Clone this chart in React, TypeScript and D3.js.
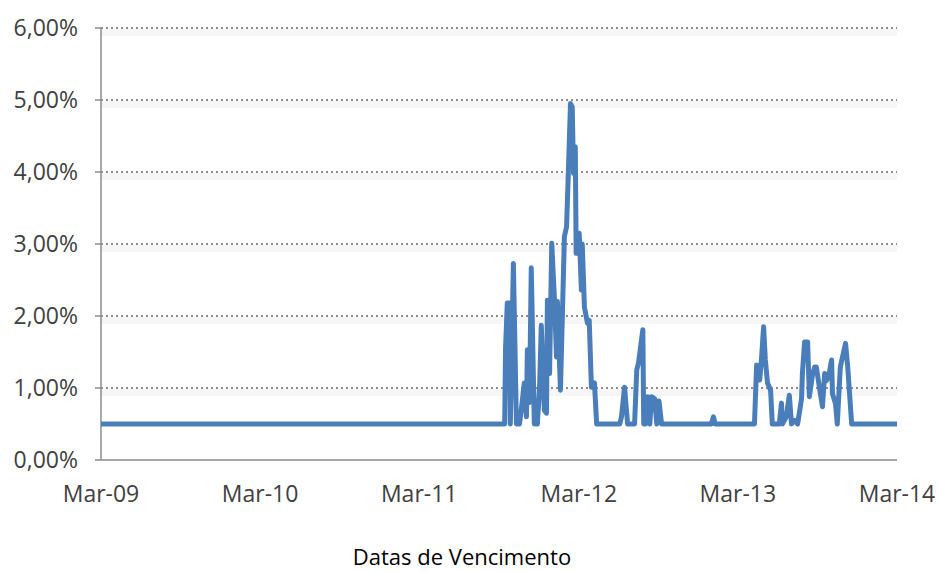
import React from 'react';
import * as d3 from 'd3';

// spread values (%) by maturity date
const dates = [
  '2009-03-01', '2011-09-13', '2011-09-15', '2011-09-19', '2011-09-24', '2011-09-26',
  '2011-10-03', '2011-10-10', '2011-10-17', '2011-10-21', '2011-10-28', '2011-11-02',
  '2011-11-04', '2011-11-09', '2011-11-13', '2011-11-20', '2011-11-27', '2011-12-02',
  '2011-12-06', '2011-12-13', '2011-12-18', '2011-12-20', '2011-12-25', '2011-12-30',
  '2012-01-05', '2012-01-10', '2012-01-12', '2012-01-19', '2012-01-28', '2012-02-02',
  '2012-02-06', '2012-02-11', '2012-02-15', '2012-02-18', '2012-02-22', '2012-02-24',
  '2012-03-02', '2012-03-07', '2012-03-09', '2012-03-14', '2012-03-21', '2012-03-25',
  '2012-03-30', '2012-04-06', '2012-04-11', '2012-06-03', '2012-06-07', '2012-06-14',
  '2012-06-21', '2012-07-07', '2012-07-12', '2012-07-16', '2012-07-26', '2012-07-28',
  '2012-08-01', '2012-08-06', '2012-08-11', '2012-08-15', '2012-08-22', '2012-08-27',
  '2012-09-01', '2012-09-07', '2012-12-30', '2013-01-04', '2013-01-08', '2013-04-08',
  '2013-04-13', '2013-04-20', '2013-04-24', '2013-04-29', '2013-05-03', '2013-05-08',
  '2013-05-15', '2013-05-19', '2013-06-04', '2013-06-09', '2013-06-11', '2013-06-20',
  '2013-06-27', '2013-07-02', '2013-07-09', '2013-07-16', '2013-07-25', '2013-07-27',
  '2013-08-01', '2013-08-08', '2013-08-12', '2013-08-19', '2013-08-24', '2013-08-28',
  '2013-09-04', '2013-09-11', '2013-09-16', '2013-09-20', '2013-09-25', '2013-10-02',
  '2013-10-04', '2013-10-11', '2013-10-15', '2013-10-22', '2013-10-27', '2013-11-03',
  '2013-11-08', '2013-11-17', '2014-03-01',
];

const values = [
  0.5, 0.5, 1.55, 2.18, 2.18, 0.5,
  2.73, 0.5, 0.5, 0.69, 1.07, 0.6,
  1.53, 0.8, 2.67, 0.5, 0.5, 1.0,
  1.87, 0.69, 0.65, 2.22, 1.2, 3.01,
  2.26, 1.43, 2.2, 0.97, 3.1, 3.24,
  3.98, 4.95, 4.9, 3.98, 4.35, 2.87,
  3.15, 2.36, 3.0, 2.12, 1.9, 1.94,
  1.01, 1.07, 0.5, 0.5, 0.6, 1.01,
  0.5, 0.5, 1.25, 1.35, 1.81, 0.5,
  0.5, 0.88, 0.5, 0.88, 0.85, 0.5,
  0.82, 0.5, 0.5, 0.6, 0.5, 0.5,
  1.32, 1.11, 1.39, 1.85, 1.39, 1.07,
  0.97, 0.5, 0.5, 0.79, 0.5, 0.6,
  0.9, 0.5, 0.55, 0.5, 0.85, 1.2,
  1.64, 1.64, 0.88, 1.18, 1.29, 1.29,
  1.01, 0.74, 1.2, 1.1, 1.15, 1.39,
  0.92, 0.78, 0.5, 1.29, 1.43, 1.62,
  1.29, 0.5, 0.5,
];

const xTicks = ['2009-03-01', '2010-03-01', '2011-03-01', '2012-03-01', '2013-03-01', '2014-03-01'];
const xTickLabels = ['Mar-09', 'Mar-10', 'Mar-11', 'Mar-12', 'Mar-13', 'Mar-14'];
const yTicks = [0, 1, 2, 3, 4, 5, 6];
const xTitle = 'Datas de Vencimento';

const W = 938;
const H = 572;
const margin = { top: 28, right: 41, bottom: 112, left: 101 };
const font = '"Open Sans", sans-serif';

export default function App() {
  const parse = d3.timeParse('%Y-%m-%d');
  const x = d3.scaleTime()
    .domain([parse(xTicks[0]), parse(xTicks[xTicks.length - 1])])
    .range([margin.left, W - margin.right]);
  const y = d3.scaleLinear()
    .domain([0, 6])
    .range([H - margin.bottom, margin.top]);

  const points = dates.map((d, i) => [parse(d), values[i]]);
  const line = d3.line()
    .x(d => x(d[0]))
    .y(d => y(d[1]));

  const fmt = v => v.toFixed(2).replace('.', ',') + '%';
  const x0 = margin.left;
  const x1 = W - margin.right;
  const yBase = y(0);

  return (
    <svg width={W} height={H} style={{ position: 'absolute', left: 0, top: 0, background: '#fff' }}>
      {/* grid */}
      {yTicks.filter(t => t > 0).map(t => (
        <g key={'g' + t}>
          <rect x={x0} y={y(t) + 1} width={x1 - x0} height={7} fill="#f6f6f6" />
          <line x1={x0} x2={x1} y1={y(t)} y2={y(t)} stroke="#8c8c8c" strokeWidth={2} strokeDasharray="2,3" />
        </g>
      ))}
      {/* axes */}
      <line x1={x0} x2={x0} y1={y(6)} y2={yBase} stroke="#8c8c8c" strokeWidth={1.5} />
      <line x1={x0} x2={x1} y1={yBase} y2={yBase} stroke="#8c8c8c" strokeWidth={1.5} />
      {yTicks.map(t => (
        <g key={'y' + t}>
          <line x1={x0 - 6} x2={x0} y1={y(t)} y2={y(t)} stroke="#8c8c8c" strokeWidth={1.5} />
          <text x={78} y={y(t)} dy="0.36em" textAnchor="end" fontFamily={font} fontSize={23} fill="#404040">
            {fmt(t)}
          </text>
        </g>
      ))}
      {xTicks.map((t, i) => (
        <text key={'x' + t} x={x(parse(t))} y={502} textAnchor="middle" fontFamily={font} fontSize={23} fill="#404040">
          {xTickLabels[i]}
        </text>
      ))}
      <text x={462} y={565} textAnchor="middle" fontFamily={font} fontSize={22} fill="#000">
        {xTitle}
      </text>
      {/* series */}
      <path d={line(points)} fill="none" stroke="#4a7ebb" strokeWidth={5} strokeLinejoin="round" />
    </svg>
  );
}
